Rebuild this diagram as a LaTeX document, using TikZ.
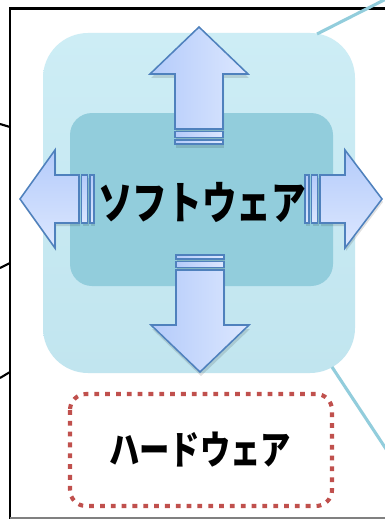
\documentclass[tikz,border=0pt]{standalone}
\usepackage{fontspec}
\usepackage{graphicx}
\usetikzlibrary{calc}
\newfontfamily\jpfont{Noto Sans CJK JP}
\definecolor{swtop}{RGB}{205,237,245}
\definecolor{swbottom}{RGB}{193,229,239}
\definecolor{swcore}{RGB}{146,205,220}
\definecolor{arrowdark}{RGB}{180,203,250}
\definecolor{arrowlight}{RGB}{220,231,255}
\definecolor{arrowline}{RGB}{79,129,189}
\definecolor{hwred}{RGB}{192,80,77}
\def\blockarrow[#1](#2)(#3:#4:#5){\begin{scope}[shift={(#2)},rotate=#3]
	\draw[#1] (0,0) -- (-#4,49) -- (-#4,24) -- ({-#4-#5},24) -- ({-#4-#5},-24) -- (-#4,-24) -- (-#4,-49) -- cycle;
	\draw[#1] ({-#4-#5-2.5},24) rectangle ({-#4-#5-8.5},-24);
	\draw[#1] ({-#4-#5-11},24) rectangle ({-#4-#5-15},-24);
	\end{scope}}
\tikzset{
	frame/.style={line width=1.8pt, line join=miter},
	link/.style={draw=swcore, line width=2.2pt},
	arrowbody/.style={draw=arrowline, line width=1.1pt, line join=miter},
	arrowshadow/.style={fill=black, opacity=0.12, draw=none},
	boxtext/.style={inner sep=0pt}
}
\begin{document}
\begin{tikzpicture}[x=0.025cm,y=-0.025cm]
		%%%%% START %%%%%
		\useasboundingbox (0,0) rectangle (385,519);
		\fill[white] (0,0) rectangle (385,519);
		
		\draw[frame] (10,519) -- (10,8.5) -- (390,8.5);
		\draw[gray, line width=1pt] (10,518) -- (390,518);
		\draw[line width=1.5pt] (0,124) -- (10,127);
		\draw[line width=1.5pt] (0,268) -- (10,263);
		\draw[line width=1.5pt] (0,378) -- (10,372);
		
		\draw[rounded corners=1.125cm, top color=swtop, bottom color=swbottom, draw=none] (43,33) rectangle (355,373);
		\fill[swcore, rounded corners=0.55cm] (70,113) rectangle (333,286);
		
		\coordinate (swne) at (317,34);
		\coordinate (swse) at (332,367);
		\coordinate (upperend) at (392,-4);
		\coordinate (lowerend) at (392,458);
		\draw[link] (swne) -- (upperend);
		\draw[link] (swse) -- (lowerend);
		
		\draw[hwred, line width=2.9pt, dash pattern=on 3.4pt off 4.3pt, rounded corners=0.4cm] (70,394) rectangle (332,506);
		
		\blockarrow[arrowshadow](200,31)(90:47:55)
		\blockarrow[arrowshadow](201,376)(270:47:55)
		\blockarrow[arrowshadow](21,202)(180:35:24)
		\blockarrow[arrowshadow](383,202)(0:37:25)
		
		\blockarrow[arrowbody, left color=arrowdark, right color=arrowlight](199,27)(90:47:55)
		\blockarrow[arrowbody, left color=arrowdark, right color=arrowlight](200,372)(270:47:55)
		\blockarrow[arrowbody, top color=arrowdark, bottom color=arrowlight](20,199)(180:35:24)
		\blockarrow[arrowbody, top color=arrowdark, bottom color=arrowlight](382,199)(0:37:25)
		
		\node[boxtext] (soft) at (202,202) {\scalebox{0.77}[1]{\jpfont\bfseries\fontsize{32}{32}\selectfont ソフトウェア}};
		\node[boxtext] (hard) at (200,450) {\scalebox{0.77}[1]{\jpfont\bfseries\fontsize{28}{28}\selectfont ハードウェア}};
		%%%%% END %%%%%
	\end{tikzpicture}
\end{document}
